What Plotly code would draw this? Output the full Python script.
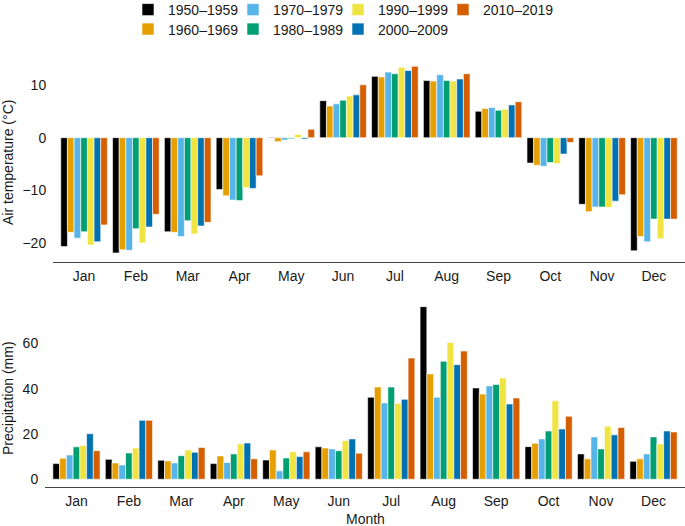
import plotly.graph_objects as go

months = ["Jan", "Feb", "Mar", "Apr", "May", "Jun", "Jul", "Aug", "Sep", "Oct", "Nov", "Dec"]
decades = ["1950–1959", "1960–1969", "1970–1979", "1980–1989", "1990–1999", "2000–2009", "2010–2019"]
colors = ["#000000", "#E69F00", "#56B4E9", "#009E73", "#F0E442", "#0072B2", "#D55E00"]

temp_1950 = [-20.6, -21.8, -17.8, -9.8, 0.1, 7.0, 11.6, 10.8, 5.0, -4.8, -12.6, -21.4]
temp_1960 = [-17.9, -21.2, -17.9, -11.0, -0.75, 6.0, 11.5, 10.7, 5.5, -5.2, -14.0, -18.7]
temp_1970 = [-19.0, -21.3, -18.7, -11.8, -0.45, 6.4, 12.4, 11.9, 5.7, -5.4, -13.1, -19.7]
temp_1980 = [-17.8, -17.2, -15.7, -11.9, -0.2, 7.1, 12.1, 10.8, 5.2, -4.7, -13.1, -15.4]
temp_1990 = [-20.3, -19.9, -18.2, -9.4, 0.6, 7.9, 13.3, 10.7, 5.4, -4.9, -13.2, -19.1]
temp_2000 = [-19.7, -16.9, -16.7, -9.6, -0.25, 8.1, 12.7, 11.1, 6.2, -3.1, -12.0, -15.4]
temp_2010 = [-16.5, -14.5, -16.0, -7.2, 1.6, 10.0, 13.5, 12.1, 6.8, -0.9, -10.8, -15.4]

prec_1950 = [6.9, 8.8, 8.4, 6.9, 8.5, 14.3, 36.2, 76.2, 40.3, 14.4, 11.2, 7.9]
prec_1960 = [9.3, 7.2, 8.1, 10.3, 12.9, 13.8, 40.7, 46.5, 37.6, 15.9, 9.0, 9.0]
prec_1970 = [10.7, 6.3, 7.2, 7.4, 3.7, 13.4, 33.7, 36.2, 41.2, 17.8, 18.7, 11.2]
prec_1980 = [14.3, 11.6, 10.4, 11.2, 9.4, 12.6, 40.7, 52.1, 41.8, 21.3, 13.4, 18.7]
prec_1990 = [14.9, 13.8, 12.9, 15.6, 12.1, 17.1, 33.5, 60.4, 44.7, 34.6, 23.4, 15.6]
prec_2000 = [20.1, 26.0, 11.9, 16.0, 10.0, 17.8, 35.3, 50.6, 33.2, 22.2, 19.6, 21.3]
prec_2010 = [12.6, 26.0, 14.0, 9.0, 12.1, 11.5, 53.5, 56.6, 35.9, 27.8, 22.8, 20.9]

temps = [temp_1950, temp_1960, temp_1970, temp_1980, temp_1990, temp_2000, temp_2010]
precs = [prec_1950, prec_1960, prec_1970, prec_1980, prec_1990, prec_2000, prec_2010]

temp_ticks = [-20, -10, 0, 10]
prec_ticks = [0, 20, 40, 60]

W, H = 685, 526
FONT = "Liberation Sans, Arial, Helvetica, sans-serif"
TXT = "#1a1a1a"

# row 1 of legend: 1950, 1970, 1990, 2010 ; row 2: 1960, 1980, 2000
legend_of = ["legend", "legend2", "legend", "legend2", "legend", "legend2", "legend"]
last_in_row = [False, False, False, False, False, True, True]

fig = go.Figure()
for i, d in enumerate(decades):
    fig.add_trace(go.Bar(
        x=months, y=temps[i], name=d, marker_color=colors[i],
        marker_line=dict(color="white", width=0.6),
        xaxis="x", yaxis="y", legendgroup=d, legend=legend_of[i], showlegend=True,
        legendwidth=80 if last_in_row[i] else None,
    ))
for i, d in enumerate(decades):
    fig.add_trace(go.Bar(
        x=months, y=precs[i], name=d, marker_color=colors[i],
        marker_line=dict(color="white", width=0.6),
        xaxis="x2", yaxis="y2", legendgroup=d, showlegend=False,
    ))

axis_common = dict(showgrid=False, zeroline=False, tickfont=dict(size=14, color=TXT, family=FONT))

fig.update_layout(
    width=W, height=H,
    margin=dict(l=0, r=0, t=0, b=0, autoexpand=False),
    paper_bgcolor="white", plot_bgcolor="white",
    font=dict(family=FONT, size=14, color=TXT),
    barmode="group", bargap=0.1, bargroupgap=0,
    xaxis=dict(domain=[53 / W, 1], range=[-0.6, 11.6], anchor="y",
               showline=True, linecolor="#444", linewidth=1.4,
               ticks="outside", ticklen=1, tickcolor="rgba(0,0,0,0)", **axis_common),
    yaxis=dict(domain=[0.5010, 0.8840], range=[-23.6, 14.5], anchor="x",
               tickvals=temp_ticks, showline=False,
               ticks="outside", ticklen=3, tickcolor="rgba(0,0,0,0)", **axis_common),
    xaxis2=dict(domain=[45 / W, 1], range=[-0.6, 11.6], anchor="y2",
                showline=True, linecolor="#444", linewidth=1.4,
                ticks="outside", ticklen=1, tickcolor="rgba(0,0,0,0)", **axis_common),
    yaxis2=dict(domain=[0.0738, 0.4205], range=[-3.5, 77], anchor="x2",
                tickvals=prec_ticks, showline=False,
                ticks="outside", ticklen=3, tickcolor="rgba(0,0,0,0)", **axis_common),
    legend=dict(orientation="h", x=128 / W, xanchor="left", y=1 - 10 / H, yanchor="middle",
                entrywidth=60, entrywidthmode="pixels", traceorder="normal",
                font=dict(size=14, color=TXT, family=FONT), bgcolor="rgba(0,0,0,0)"),
    legend2=dict(orientation="h", x=128 / W, xanchor="left", y=1 - 29.5 / H, yanchor="middle",
                 entrywidth=60, entrywidthmode="pixels", traceorder="normal",
                 font=dict(size=14, color=TXT, family=FONT), bgcolor="rgba(0,0,0,0)"),
    showlegend=True,
)

fig.add_annotation(text="Air temperature (°C)", xref="paper", yref="paper",
                   x=8 / W, y=1 - 163 / H, xanchor="center", yanchor="middle",
                   textangle=-90, showarrow=False, font=dict(size=14, color=TXT))
fig.add_annotation(text="Precipitation (mm)", xref="paper", yref="paper",
                   x=8 / W, y=1 - 398 / H, xanchor="center", yanchor="middle",
                   textangle=-90, showarrow=False, font=dict(size=14, color=TXT))
fig.add_annotation(text="Month", xref="paper", yref="paper",
                   x=365 / W, y=1 - 519 / H, xanchor="center", yanchor="middle",
                   showarrow=False, font=dict(size=14, color=TXT))

fig.write_html("out.html", config={"displayModeBar": False},
               post_script="document.body.style.margin='0';document.body.style.overflow='hidden';")
